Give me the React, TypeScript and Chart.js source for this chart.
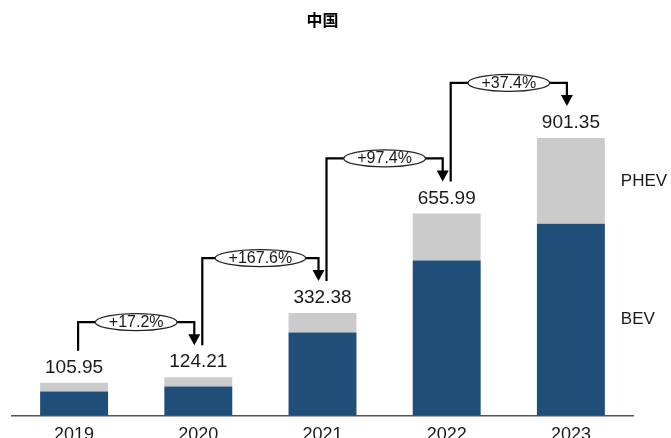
import React, { useEffect, useRef } from "react";
import { Chart, registerables } from "chart.js";

Chart.register(...registerables);

const categories = ["2019", "2020", "2021", "2022", "2023"];
const bevValues = [78, 94, 269, 503, 622.6];
const phevValues = [27.95, 30.21, 63.38, 152.99, 278.75];
const totals = [105.95, 124.21, 332.38, 655.99, 901.35];
const totalLabels = ["105.95", "124.21", "332.38", "655.99", "901.35"];
const growthLabels = ["+17.2%", "+167.6%", "+97.4%", "+37.4%"];
const seriesNames = ["BEV", "PHEV"];
const titleText = "中国";

const FONT = "'Liberation Sans', Arial, sans-serif";

const annotatePlugin = {
  id: "annotate",
  afterDatasetsDraw(chart: any) {
    const ctx = chart.ctx as CanvasRenderingContext2D;
    const xs = chart.scales.x;
    const ys = chart.scales.y;
    const cx = categories.map((_, i) => xs.getPixelForValue(i));
    const tops = totals.map((v) => ys.getPixelForValue(v));
    ctx.save();
    ctx.fillStyle = "#1a1a1a";
    ctx.font = `19px ${FONT}`;
    ctx.textAlign = "center";
    ctx.textBaseline = "middle";
    totalLabels.forEach((t, i) => ctx.fillText(t, cx[i], tops[i] - 15));

    for (let i = 0; i < growthLabels.length; i++) {
      const x1 = cx[i] + 4;
      const x2 = cx[i + 1] - 4;
      const y1 = tops[i] - 32;
      const y2 = tops[i + 1] - 32;
      const level = tops[i + 1] - 55;
      ctx.strokeStyle = "#000";
      ctx.lineWidth = 2.2;
      ctx.beginPath();
      ctx.moveTo(x1, y1);
      ctx.lineTo(x1, level);
      ctx.lineTo(x2, level);
      ctx.lineTo(x2, y2 - 9);
      ctx.stroke();
      ctx.fillStyle = "#000";
      ctx.beginPath();
      ctx.moveTo(x2 - 6, y2 - 11);
      ctx.lineTo(x2 + 6, y2 - 11);
      ctx.lineTo(x2, y2);
      ctx.closePath();
      ctx.fill();
      ctx.font = `16px ${FONT}`;
      const tw = ctx.measureText(growthLabels[i]).width;
      const mx = (x1 + x2) / 2;
      ctx.beginPath();
      ctx.ellipse(mx, level, (tw + 27) / 2, 8.5, 0, 0, Math.PI * 2);
      ctx.fillStyle = "#fff";
      ctx.fill();
      ctx.lineWidth = 1.2;
      ctx.strokeStyle = "#222";
      ctx.stroke();
      ctx.fillStyle = "#1a1a1a";
      ctx.fillText(growthLabels[i], mx, level + 0.5);
    }

    const last = categories.length - 1;
    const meta0 = chart.getDatasetMeta(0).data[last];
    const meta1 = chart.getDatasetMeta(1).data[last];
    const rightEdge = meta0.x + meta0.width / 2 + 16;
    ctx.font = `17px ${FONT}`;
    ctx.textAlign = "left";
    ctx.fillStyle = "#1a1a1a";
    ctx.fillText(seriesNames[0], rightEdge, (meta0.y + meta0.base) / 2);
    ctx.fillText(seriesNames[1], rightEdge, (meta1.y + meta1.base) / 2);
    ctx.restore();
  },
};

export default function App() {
  const ref = useRef<HTMLCanvasElement | null>(null);
  useEffect(() => {
    document.body.style.margin = "0";
    if (!ref.current) return;
    const chart = new Chart(ref.current, {
      type: "bar",
      data: {
        labels: categories,
        datasets: [
          {
            label: seriesNames[0],
            data: bevValues,
            backgroundColor: "#1F4E79",
            categoryPercentage: 1,
            barPercentage: 0.547,
          },
          {
            label: seriesNames[1],
            data: phevValues,
            backgroundColor: "#CBCBCB",
            categoryPercentage: 1,
            barPercentage: 0.547,
          },
        ],
      },
      options: {
        responsive: false,
        animation: false,
        devicePixelRatio: 1,
        layout: { padding: { left: 12, right: 38, top: 0, bottom: 0 } },
        plugins: {
          legend: { display: false },
          tooltip: { enabled: false },
          title: {
            display: true,
            text: titleText,
            color: "#000",
            font: { size: 16, weight: "bold", family: "'Noto Sans CJK SC', sans-serif" },
            padding: { top: 10, bottom: 10 },
          },
        },
        scales: {
          x: {
            stacked: true,
            grid: { display: false, drawTicks: false },
            border: { display: true, color: "#555", width: 1.5 },
            ticks: { color: "#1a1a1a", font: { size: 18, family: FONT }, padding: 9 },
          },
          y: {
            stacked: true,
            display: false,
            min: 0,
            max: 1222,
          },
        },
      },
      plugins: [annotatePlugin],
    });
    return () => chart.destroy();
  }, []);
  return (
    <div style={{ position: "fixed", left: 0, top: 0, width: 671, height: 438, overflow: "hidden", background: "#fff" }}>
      <canvas ref={ref} width={671} height={455} style={{ width: 671, height: 455, display: "block" }} />
    </div>
  );
}
